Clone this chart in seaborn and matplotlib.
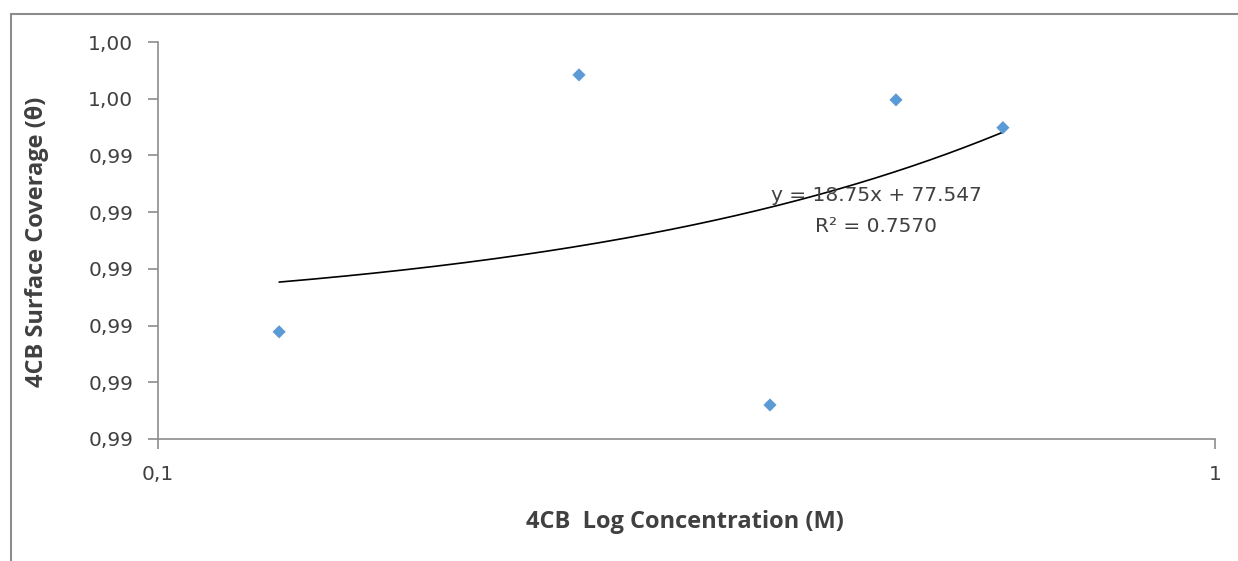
import numpy as np
import pandas as pd
import matplotlib
matplotlib.use('Agg')
import matplotlib.pyplot as plt
import seaborn as sns
from matplotlib.patches import Rectangle

# data
concentration = [0.1302, 0.2502, 0.3793, 0.4991, 0.630]
coverage = [0.99089, 0.99542, 0.98960, 0.99498, 0.99449]

y_ticks = [0.989, 0.990, 0.991, 0.992, 0.993, 0.994, 0.995, 0.996]
y_tick_labels = ['0,99', '0,99', '0,99', '0,99', '0,99', '0,99', '1,00', '1,00']
x_ticks = [0.1, 1]
x_tick_labels = ['0,1', '1']

df = pd.DataFrame({'conc': concentration, 'theta': coverage})

sns.set_style('white')
plt.rcParams['font.family'] = ['DejaVu Sans']

W, H = 1238, 561
fig = plt.figure(figsize=(W / 100, H / 100), dpi=100)
ax = fig.add_axes([158 / W, 1 - 439 / H, (1215 - 158) / W, (439 - 42) / H])

# chart area border (partly cut off like the screenshot)
fig.patches.append(Rectangle((11 / W, -0.1), 1.2, 1 - 14 / H + 0.1,
                             transform=fig.transFigure, fill=False,
                             edgecolor='#8c8c8c', linewidth=1.5))

sns.scatterplot(data=df, x='conc', y='theta', marker='D', s=45,
                color='#5b9bd5', edgecolor='none', ax=ax, zorder=3)

# linear trendline
slope, intercept = np.polyfit(df['conc'], df['theta'], 1)
xs = np.linspace(min(concentration), max(concentration), 200)
sns.lineplot(x=xs, y=slope * xs + intercept, color='black', linewidth=1.2, ax=ax)

fig.text(876 / W, 1 - 195 / H, 'y = 18.75x + 77.547', fontsize=14.5,
         ha='center', va='center', color='#404040')
fig.text(876 / W, 1 - 227 / H, 'R² = 0.7570', fontsize=14.5,
         ha='center', va='center', color='#404040')

ax.set_xscale('log')
ax.set_xlim(0.1, 1)
ax.set_ylim(y_ticks[0], y_ticks[-1])
ax.set_xticks(x_ticks)
ax.set_xticklabels(x_tick_labels)
ax.xaxis.set_minor_locator(matplotlib.ticker.NullLocator())
ax.set_yticks(y_ticks)
ax.set_yticklabels(y_tick_labels)

for side in ['top', 'right']:
    ax.spines[side].set_visible(False)
for side in ['left', 'bottom']:
    ax.spines[side].set_color('#8c8c8c')
    ax.spines[side].set_linewidth(1.2)
ax.tick_params(axis='both', direction='out', length=7, width=1.2, color='#8c8c8c',
               labelsize=14.5, labelcolor='#404040', left=True, bottom=True)
ax.tick_params(axis='y', pad=11)
ax.tick_params(axis='x', pad=12)

ax.set_xlabel('4CB  Log Concentration (M)', fontsize=17, fontweight='bold',
              color='#404040', family='Open Sans', va='center')
ax.set_ylabel('4CB Surface Coverage (θ)', fontsize=17, fontweight='bold',
              color='#404040', family='Open Sans', va='center')
ax.xaxis.set_label_coords(685 / W, 1 - 522 / H, transform=fig.transFigure)
ax.yaxis.set_label_coords(37 / W, 1 - 242 / H, transform=fig.transFigure)

fig.savefig('out.png', dpi=100)
